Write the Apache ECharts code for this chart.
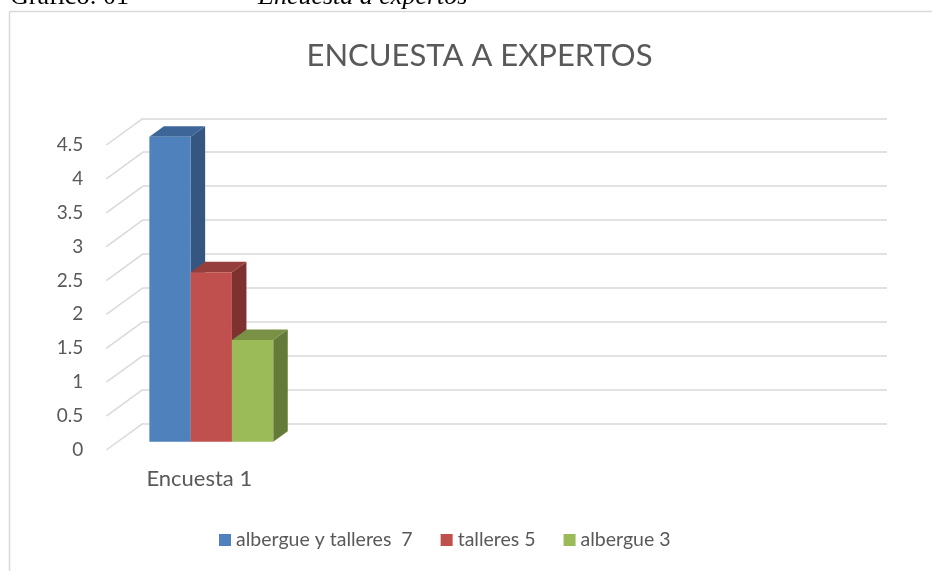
<!DOCTYPE html>
<html><head><meta charset="utf-8">
<script src="https://cdn.jsdelivr.net/npm/echarts@6/dist/echarts.min.js"></script>
<style>html,body{margin:0;padding:0;background:#fff}#c{width:932px;height:571px}</style>
</head><body><div id="c"></div>
<script>
// ---- data ----
const categories = ['Encuesta 1', '', '', ''];
const seriesNames = ['albergue y talleres  7', 'talleres 5', 'albergue 3'];
const valuesAlbergueTalleres = [4.5];
const valuesTalleres = [2.5];
const valuesAlbergue = [1.5];
const yTicks = [0, 0.5, 1, 1.5, 2, 2.5, 3, 3.5, 4, 4.5];
const chartTitle = 'ENCUESTA A EXPERTOS';
const headerLeft = 'Gráfico: 01';
const headerRight = 'Encuesta a expertos';

// ---- style ----
const FONT = 'Lato, "Open Sans", sans-serif';
const TXT = '#595959';
const GRID_C = '#d9d9d9';
const colors = [
  {front: '#4F81BD', top: '#3E6597', side: '#345681'},
  {front: '#C0504D', top: '#963E3B', side: '#7D3230'},
  {front: '#9BBB59', top: '#789145', side: '#637A39'}
];
const FRONT = [-36.7, 26.7];  // axis plane offset from back wall
const BARF = [-24.7, 18.4];   // bar front plane offset from back wall
const DEPTH = [14.5, -10.5];  // bar depth
const BAR_FRAC = 0.222;

function barRender(si) {
  return function (params, api) {
    const cat = api.value(0), v = api.value(1);
    const base = api.coord([cat, 0]);
    const top = api.coord([cat, v]);
    const band = api.size([1, 0])[0];
    const w = band * BAR_FRAC;
    const x0 = base[0] - 1.5 * w + si * w + BARF[0];
    const x1 = x0 + w;
    const yb = base[1] + BARF[1];
    const yt = top[1] + BARF[1];
    const dx = DEPTH[0], dy = DEPTH[1];
    const c = colors[si];
    return {type: 'group', children: [
      {type: 'polygon', shape: {points: [[x1, yt], [x1 + dx, yt + dy], [x1 + dx, yb + dy], [x1, yb]]}, style: {fill: c.side}},
      {type: 'polygon', shape: {points: [[x0, yt], [x0 + dx, yt + dy], [x1 + dx, yt + dy], [x1, yt]]}, style: {fill: c.top}},
      {type: 'rect', shape: {x: x0, y: yt, width: w, height: yb - yt}, style: {fill: c.front}}
    ]};
  };
}

function diagRender(params, api) {
  const v = api.value(1);
  const p = api.coord([0, v]);
  const band = api.size([1, 0])[0];
  const xl = p[0] - band / 2;
  return {type: 'line', shape: {x1: xl, y1: p[1], x2: xl + FRONT[0], y2: p[1] + FRONT[1]},
    style: {stroke: GRID_C, lineWidth: 1.5}};
}

const allValues = [valuesAlbergueTalleres, valuesTalleres, valuesAlbergue];

const chart = echarts.init(document.getElementById('c'), null, {renderer: 'canvas'});
chart.setOption({
  animation: false,
  backgroundColor: '#fff',
  grid: [
    {left: 143, right: 45, top: 118.3, bottom: 147.7},
    {left: 106.3, right: 81.7, top: 145, bottom: 121.3}
  ],
  xAxis: [
    {gridIndex: 0, type: 'category', data: categories, show: false},
    {gridIndex: 1, type: 'category', data: categories,
      axisLine: {show: false}, axisTick: {show: false}, splitLine: {show: false},
      axisLabel: {color: TXT, fontFamily: FONT, fontSize: 22, margin: 18, interval: 0}}
  ],
  yAxis: [
    {gridIndex: 0, type: 'value', min: 0, max: 4.5, interval: 0.5,
      axisLine: {show: false}, axisTick: {show: false}, axisLabel: {show: false},
      splitLine: {show: true, lineStyle: {color: GRID_C, width: 1.5}}},
    {gridIndex: 1, type: 'value', min: 0, max: 4.5, interval: 0.5,
      axisLine: {show: false}, axisTick: {show: false}, splitLine: {show: false},
      axisLabel: {color: TXT, fontFamily: FONT, fontSize: 19, margin: 23}}
  ],
  legend: {
    data: seriesNames, left: 219, top: 530, padding: 0, itemWidth: 12, itemHeight: 12, itemGap: 28,
    icon: 'rect', textStyle: {color: TXT, fontFamily: FONT, fontSize: 19.5}
  },
  graphic: [
    {type: 'line', shape: {x1: 9.5, y1: 11.5, x2: 932, y2: 11.5}, style: {stroke: GRID_C, lineWidth: 1.5}},
    {type: 'line', shape: {x1: 9.5, y1: 11.5, x2: 9.5, y2: 571}, style: {stroke: GRID_C, lineWidth: 1.5}},
    {type: 'text', x: 10, y: -2.5, style: {text: headerLeft, font: '26px "Liberation Serif", serif', fill: '#000', verticalAlign: 'middle'}},
    {type: 'text', x: 258, y: -2.5, style: {text: headerRight, font: 'italic 26px "Liberation Serif", serif', fill: '#000', verticalAlign: 'middle'}},
    {type: 'text', x: 479.5, y: 55.8, style: {text: chartTitle, font: '31px ' + FONT, fill: TXT, align: 'center', verticalAlign: 'middle'}}
  ],
  series: [
    {type: 'custom', name: '_diag', xAxisIndex: 0, yAxisIndex: 0, silent: true,
      data: yTicks.map(v => [0, v]), renderItem: diagRender, z: 1},
    ...seriesNames.map((n, i) => ({
      type: 'custom', name: n, xAxisIndex: 0, yAxisIndex: 0,
      itemStyle: {color: colors[i].front}, z: 3 + i,
      data: allValues[i].map((v, k) => [k, v]),
      renderItem: barRender(i)
    }))
  ]
});
</script>
</body></html>
